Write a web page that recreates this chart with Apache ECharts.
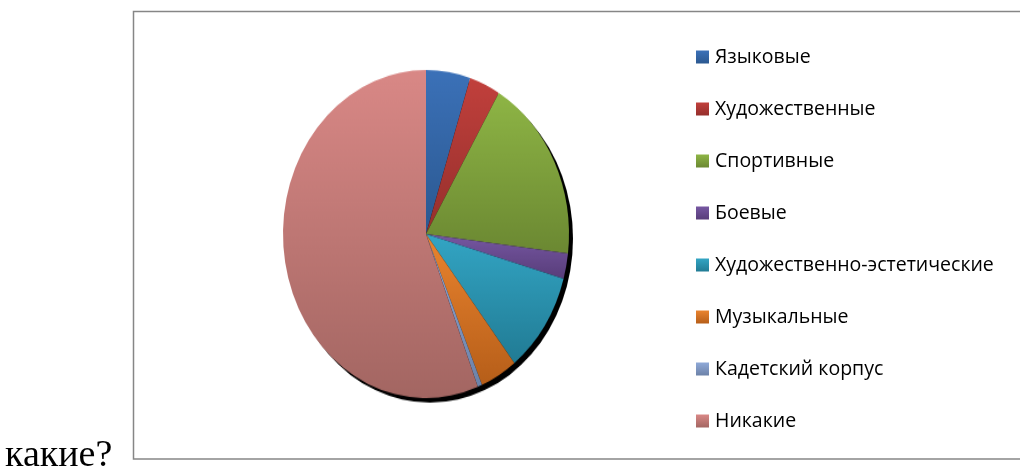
<!DOCTYPE html>
<html>
<head>
<meta charset="utf-8">
<script src="https://cdn.jsdelivr.net/npm/echarts@6/dist/echarts.min.js"></script>
<style>
    html, body { margin: 0; padding: 0; background: #fff; }
    #wrap { position: relative; width: 1020px; height: 473px; overflow: hidden; }
    #pie, #legend { position: absolute; left: 0; top: 0; width: 1020px; height: 473px; }
    /* the pie in the picture is a bit taller than wide */
    #pie { transform: scaleY(1.147); transform-origin: 426px 234px; }
</style>
</head>
<body>
<div id="wrap">
    <div id="pie"></div>
    <div id="legend"></div>
</div>
<script>
const categories = [
    "Языковые",
    "Художественные",
    "Спортивные",
    "Боевые",
    "Художественно-эстетические",
    "Музыкальные",
    "Кадетский корпус",
    "Никакие",
];
const values = [5.0, 3.5, 18.4, 2.5, 10.0, 4.2, 0.5, 55.9];
const question = "какие?";

// top / bottom of each slice gradient
const colorsTop = ["#3b71b8", "#c1403c", "#8eb545", "#7657a2", "#33a5c4", "#ea842f", "#8fa9d8", "#d98886"];
const colorsBottom = ["#2b5890", "#952f2c", "#6b8832", "#583d7a", "#217b94", "#b65e19", "#6d82a8", "#a36662"];

function sliceStyle(i) {
    return {
        color: new echarts.graphic.LinearGradient(0, 0, 0, 1, [
            { offset: 0, color: colorsTop[i] },
            { offset: 1, color: colorsBottom[i] },
        ]),
    };
}

const pieData = categories.map((name, i) => ({
    name: name,
    value: values[i],
    itemStyle: sliceStyle(i),
}));

const pieChart = echarts.init(document.getElementById("pie"), null, { renderer: "canvas" });
pieChart.setOption({
    animation: false,
    series: [
        {
            // dark shadow under the pie
            type: "pie",
            silent: true,
            center: [430, 238],
            radius: 143,
            startAngle: 90,
            label: { show: false },
            labelLine: { show: false },
            itemStyle: { color: "#000" },
            data: [{ name: "", value: 1 }],
            z: 1,
        },
        {
            type: "pie",
            center: [426, 234],
            radius: 143,
            startAngle: 90,
            clockwise: true,
            label: { show: false },
            labelLine: { show: false },
            emphasis: { disabled: true },
            data: pieData,
            z: 2,
        },
    ],
});

const legendChart = echarts.init(document.getElementById("legend"), null, { renderer: "canvas" });
legendChart.setOption({
    animation: false,
    backgroundColor: "transparent",
    legend: {
        orient: "vertical",
        left: 696,
        top: 47,
        padding: 0,
        icon: "rect",
        itemWidth: 13,
        itemHeight: 13,
        itemGap: 32,
        selectedMode: false,
        textStyle: {
            fontFamily: "Open Sans",
            fontSize: 19.5,
            color: "#000",
            padding: [0, 0, 0, 1],
        },
        data: categories,
    },
    graphic: [
        {
            type: "rect",
            silent: true,
            shape: { x: 133.5, y: 11.5, width: 920, height: 447.5 },
            style: { fill: "none", stroke: "#868686", lineWidth: 1.5 },
        },
        {
            type: "text",
            left: 5,
            top: 437,
            style: {
                text: question,
                font: "38px 'Liberation Serif'",
                fill: "#000",
            },
        },
    ],
    series: [
        {
            // only here so the legend gets its names and colours
            type: "pie",
            radius: [0, 0],
            center: [-100, -100],
            label: { show: false },
            labelLine: { show: false },
            data: pieData,
        },
    ],
});
</script>
</body>
</html>
